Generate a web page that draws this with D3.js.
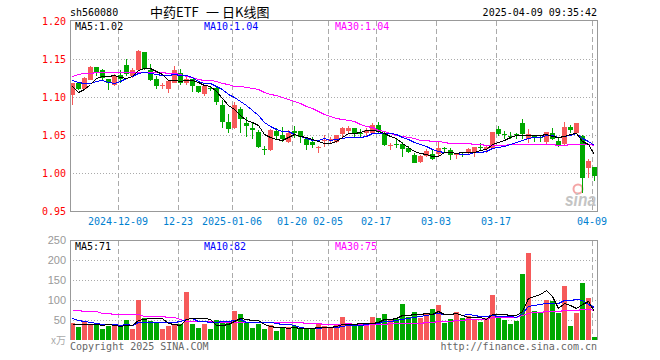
<!DOCTYPE html>
<html>
<head>
<meta charset="utf-8">
<script src="https://cdn.jsdelivr.net/npm/d3@7/dist/d3.min.js"></script>
<style>
  body { margin: 0; background: #fff; }
  svg text { font-family: "DejaVu Sans Mono", monospace; font-size: 10px; }
</style>
</head>
<body>
<div class="chart"></div>
<script>
/*************** DATA ***************/
// trading days shown, 2024-11-27 .. 2025-04-09
var days = [
  '2024-11-27','2024-11-28','2024-11-29',
  '2024-12-02','2024-12-03','2024-12-04','2024-12-05','2024-12-06',
  '2024-12-09','2024-12-10','2024-12-11','2024-12-12','2024-12-13',
  '2024-12-16','2024-12-17','2024-12-18','2024-12-19','2024-12-20',
  '2024-12-23','2024-12-24','2024-12-25','2024-12-26','2024-12-27',
  '2024-12-30','2024-12-31',
  '2025-01-02','2025-01-03',
  '2025-01-06','2025-01-07','2025-01-08','2025-01-09','2025-01-10',
  '2025-01-13','2025-01-14','2025-01-15','2025-01-16','2025-01-17',
  '2025-01-20','2025-01-21','2025-01-22','2025-01-23','2025-01-24',
  '2025-01-27',
  '2025-02-05','2025-02-06','2025-02-07',
  '2025-02-10','2025-02-11','2025-02-12','2025-02-13','2025-02-14',
  '2025-02-17','2025-02-18','2025-02-19','2025-02-20','2025-02-21',
  '2025-02-24','2025-02-25','2025-02-26','2025-02-27','2025-02-28',
  '2025-03-03','2025-03-04','2025-03-05','2025-03-06','2025-03-07',
  '2025-03-10','2025-03-11','2025-03-12','2025-03-13','2025-03-14',
  '2025-03-17','2025-03-18','2025-03-19','2025-03-20','2025-03-21',
  '2025-03-24','2025-03-25','2025-03-26','2025-03-27','2025-03-28',
  '2025-03-31',
  '2025-04-01','2025-04-02','2025-04-03',
  '2025-04-07','2025-04-08','2025-04-09'
];

var tickDays   = ['2024-12-09','2024-12-23','2025-01-06','2025-01-20','2025-02-05','2025-02-17','2025-03-03','2025-03-17','2025-04-09'];
var tickLabels = ['2024-12-09','12-23','2025-01-06','01-20','02-05','02-17','03-03','03-17','04-09'];
var priceTicks = [0.95, 1.00, 1.05, 1.10, 1.15, 1.20];
var volTicks   = [50, 100, 150, 200, 250];

var open = [1.103,1.119,1.111,1.123,1.139,1.135,1.124,1.116,1.129,1.142,1.127,1.136,1.159,1.135,1.124,1.115,1.111,1.119,1.132,1.118,1.124,1.114,1.104,1.112,1.112,
  1.0895,1.0675,1.0588,1.0842,1.0662,1.0588,1.0544,1.0311,1.0303,1.0553,1.050,1.0412,1.0557,1.0553,1.0447,1.0412,1.0325,1.0421,1.0425,1.0412,1.0513,1.0557,1.0588,1.0531,1.0522,1.0531,1.0632,1.0509,1.0364,1.0377,1.0382,1.0325,1.0237,1.014,1.0228,1.025,1.0246,
  1.0333,1.0303,1.0237,1.025,1.0259,1.0268,1.0338,1.0316,1.0325,1.0575,1.0513,1.0487,1.0513,1.0662,1.0447,1.0482,1.0478,1.0412,1.0522,1.0421,1.0377,1.0601,1.0522,1.0491,1.0061,1.0083];
var high = [1.119,1.120,1.126,1.141,1.139,1.137,1.124,1.130,1.136,1.150,1.138,1.162,1.159,1.144,1.128,1.119,1.121,1.141,1.137,1.126,1.124,1.115,1.116,1.113,1.114,
  1.0961,1.0776,1.0939,1.0873,1.0741,1.0654,1.0566,1.0355,1.0575,1.0588,1.0601,1.0566,1.0618,1.0553,1.0478,1.0478,1.0355,1.050,1.0469,1.050,1.0601,1.0618,1.0588,1.0575,1.0588,1.0662,1.0675,1.0544,1.039,1.0443,1.0412,1.0355,1.0259,1.0237,1.0311,1.0311,1.0412,
  1.0346,1.0325,1.0259,1.0281,1.0325,1.0342,1.0399,1.0355,1.0539,1.0618,1.0557,1.0539,1.0531,1.0706,1.0583,1.050,1.050,1.0539,1.0588,1.0456,1.0675,1.0632,1.0654,1.050,1.018,1.0083];
var low = [1.089,1.109,1.109,1.122,1.127,1.122,1.109,1.114,1.118,1.127,1.125,1.135,1.136,1.121,1.111,1.110,1.105,1.118,1.116,1.116,1.107,1.105,1.101,1.108,1.090,
  1.0588,1.0522,1.0575,1.0522,1.0469,1.0447,1.0325,1.0237,1.0289,1.0443,1.0412,1.039,1.0456,1.0399,1.0303,1.0325,1.0259,1.0338,1.0377,1.039,1.0456,1.0531,1.0478,1.0478,1.0469,1.0513,1.0513,1.0355,1.0303,1.0333,1.0215,1.0259,1.0127,1.0127,1.0206,1.0171,1.0224,
  1.0259,1.0171,1.018,1.0206,1.0237,1.0206,1.0303,1.0268,1.0311,1.0487,1.0443,1.0443,1.0443,1.0447,1.0399,1.0412,1.0412,1.0368,1.0434,1.0346,1.0364,1.0531,1.0513,0.9732,0.993,0.9899];
var close = [1.118,1.111,1.125,1.139,1.133,1.125,1.118,1.128,1.124,1.130,1.136,1.1605,1.137,1.123,1.114,1.116,1.121,1.135,1.118,1.124,1.115,1.107,1.115,1.110,1.093,
  1.0675,1.0579,1.0895,1.0711,1.0618,1.0566,1.0346,1.0303,1.0566,1.0487,1.0443,1.0531,1.0522,1.0478,1.0368,1.0368,1.0346,1.0434,1.0452,1.050,1.0588,1.0596,1.0513,1.0522,1.0566,1.0632,1.0544,1.0368,1.0368,1.0368,1.0311,1.0281,1.0136,1.0224,1.0289,1.018,1.0325,
  1.0325,1.0237,1.0246,1.0246,1.0316,1.0342,1.0333,1.0342,1.0539,1.0509,1.0509,1.0478,1.0509,1.0513,1.0509,1.0478,1.0469,1.0539,1.0452,1.0368,1.0601,1.0566,1.0654,0.993,1.0162,0.9961];

var ma5 = [1.114,1.107,1.110,1.117,1.125,1.127,1.128,1.129,1.126,1.125,1.127,1.136,1.138,1.138,1.134,1.130,1.122,1.122,1.121,1.123,1.123,1.120,1.116,1.114,1.108,
  1.099,1.089,1.084,1.076,1.070,1.067,1.063,1.051,1.048,1.045,1.043,1.047,1.051,1.049,1.047,1.045,1.042,1.040,1.040,1.042,1.047,1.052,1.053,1.054,1.056,1.056,1.055,1.052,1.049,1.046,1.039,1.034,1.029,1.026,1.025,1.022,1.023,
  1.027,1.027,1.026,1.027,1.027,1.028,1.030,1.032,1.038,1.041,1.044,1.047,1.050,1.050,1.050,1.050,1.050,1.051,1.049,1.047,1.049,1.051,1.053,1.042,1.038,1.025];
var ma10 = [1.123,1.120,1.119,1.119,1.121,1.122,1.120,1.118,1.121,1.125,1.127,1.132,1.133,1.132,1.130,1.129,1.129,1.130,1.129,1.129,1.126,1.121,1.119,1.118,1.115,
  1.111,1.104,1.100,1.095,1.089,1.083,1.076,1.067,1.062,1.058,1.055,1.055,1.051,1.049,1.046,1.044,1.044,1.046,1.044,1.045,1.046,1.047,1.047,1.047,1.049,1.052,1.053,1.053,1.052,1.051,1.048,1.045,1.041,1.038,1.035,1.031,1.029,
  1.028,1.027,1.026,1.025,1.025,1.027,1.028,1.029,1.033,1.034,1.036,1.038,1.041,1.044,1.046,1.047,1.048,1.050,1.050,1.048,1.049,1.050,1.052,1.046,1.042,1.037];
var ma30 = [1.128,1.130,1.131,1.132,1.1325,1.1325,1.1325,1.1325,1.1325,1.1325,1.1325,1.133,1.133,1.133,1.133,1.133,1.132,1.131,1.130,1.128,1.126,1.124,1.123,1.122,1.121,
  1.119,1.117,1.115,1.114,1.113,1.112,1.110,1.107,1.104,1.102,1.100,1.097,1.095,1.092,1.088,1.085,1.081,1.078,1.075,1.073,1.071,1.070,1.068,1.065,1.062,1.060,1.057,1.055,1.052,1.050,1.049,1.048,1.046,1.044,1.043,1.042,1.042,
  1.041,1.040,1.040,1.039,1.039,1.038,1.038,1.037,1.037,1.037,1.037,1.038,1.038,1.038,1.038,1.038,1.038,1.038,1.038,1.037,1.037,1.038,1.038,1.038,1.038,1.037];

// volume, 万
var vol = [43,32.5,47.5,41,42,27.5,36,35,36,50,27.5,100,54,48,44,27.5,35,40,40,121,40,31,40,27.5,50,
  42,42,72.5,64,43,31,40,27.5,37.5,23,29,33,35,27,29,29,42,35,33,37.5,57.5,40,36,40,40,57.5,56,65,50,52,90,57.5,70,54,68,77.5,87.5,
  43,52.5,71,56,60,50,46,54,112.5,60,50,40,47.5,166,218,72.5,67,100,98,67.5,135,35,67.5,143,105,7.5];
var vma5 = [40,39,39,39,41.2,38.1,38.8,36.3,35.3,36.9,36.9,49.7,53.5,55.9,54.7,54.7,41.7,38.9,37.3,52.7,55.2,54.4,54.4,51.9,37.7,
  38.1,40.3,46.8,54.1,52.7,50.5,50.1,41.1,35.8,31.8,31.4,30,31.5,29.4,30.6,30.6,32.4,32.4,33.6,35.3,41,40.6,40.8,42.2,42.7,42.7,45.9,51.7,53.7,56.1,62.6,62.9,63.9,64.7,67.9,65.4,71.4,
  66,65.7,66.3,62,56.5,57.9,56.6,53.2,64.5,64.5,64.5,63.3,62,72.7,104.3,108.8,114.2,124.7,111.1,81,93.5,87.1,80.6,89.6,97.1,71.6];
var vma10 = [54,51,48,45,42,40,39,39,38,39.1,37.5,44.3,44.9,45.6,45.8,45.8,45.7,46.2,46.6,53.7,55,48.1,46.7,44.6,45.2,
  46.7,47.4,50.6,53,45.2,44.3,45.2,44,45,42.3,41,40.1,36.3,32.6,31.2,31,31.2,32,31.5,33,35.8,36.5,36.6,37.9,39,41.9,43.3,46.3,48,49.4,52.7,54.4,57.8,59.2,62,64,67.2,
  65,65.2,67.1,63.7,64,62,61.2,59.8,63.3,60.5,61.2,60,57.6,68.6,84.4,86.7,88.8,93.4,91.9,92.7,101.2,100.7,102.7,100.4,89.1,82.6];
var vma30 = [75,75,72.5,72.5,72.5,68,68,64,64,64,64,64,61,61,61,61,57,57,52,48,48,48,48,48,46,
  46,46,46,46,46,45.6,45.8,45.2,45.1,44.4,44.5,44.4,44.4,44.1,43.4,43.4,41.5,40.9,40.4,40.1,41.1,41.3,41.2,41.2,38.5,39.1,39.9,40.7,41.5,41.5,43.1,43.7,43.6,43.2,44.1,45.6,47.2,
  47.7,48.2,49.8,50.7,51.6,52.1,52.8,53.6,56.4,57,57.5,57.7,58,61.7,67.6,68.8,69.7,71.7,73,73.4,75.8,75.3,75.8,76.5,76.5,75];

/*************** DRAW ***************/
const width = 660;
const height = 360;
const left = 70, right = 597;
const upColour = '#f65a5a', downColour = '#00a800';

var svg = d3.select('.chart')
  .append('svg')
  .attr('width', width)
  .attr('height', height);

// one band per trading day, 5px candle on a 6px step
const x = d3.scaleBand().domain(days).range([left, right]).paddingInner(1/6).paddingOuter(0);
const y = d3.scaleLinear().domain([0.95, 1.20]).range([211, 21]);
const yv = d3.scaleLinear().domain([0, 250]).range([340, 240]);

function colour(i){ return close[i] >= open[i] ? upColour : downColour; }
function mid(d){ return x(d) + x.bandwidth()/2; }

// header
svg.append('text').attr('x', 70).attr('y', 16).text('sh560080');
var title = svg.append('text').attr('y', 17)
  .style('font-family', '"Noto Sans CJK SC", sans-serif').style('font-size', '13px');
title.append('tspan').attr('x', 150).text('中药ETF');
title.append('tspan').attr('x', 206).text('一');
title.append('tspan').attr('x', 222).text('日K线图');
svg.append('text').attr('x', right).attr('y', 16).attr('text-anchor', 'end').text('2025-04-09 09:35:42');

// grid for both panels
function grid(top, bottom, yScale, values){
  svg.append('g').selectAll('line')
    .data(values)
    .enter()
    .append('line')
      .attr('x1', left).attr('x2', right)
      .attr('y1', d => Math.round(yScale(d)) + 0.5)
      .attr('y2', d => Math.round(yScale(d)) + 0.5)
      .attr('stroke', '#aaa')
      .style('stroke-dasharray', '1,2');

  svg.append('g').selectAll('line')
    .data(tickDays)
    .enter()
    .append('line')
      .attr('x1', d => x(d) + 0.5).attr('x2', d => x(d) + 0.5)
      .attr('y1', top).attr('y2', bottom)
      .attr('stroke', '#aaa')
      .style('stroke-dasharray', '5,3');
}
grid(21, 211, y, [1.00, 1.05, 1.10, 1.15]);
grid(241, 340, yv, [50, 100, 150, 200]);

// sina watermark
svg.append('circle').attr('cx', 578).attr('cy', 189).attr('r', 4.5)
  .attr('fill', 'none').attr('stroke', '#f4a6a6').attr('stroke-width', 2);
svg.append('text').attr('x', 565).attr('y', 206)
  .attr('textLength', 31).attr('lengthAdjust', 'spacingAndGlyphs')
  .style('font-family', '"Liberation Sans", sans-serif').style('font-size', '19px')
  .style('font-weight', 'bold').style('font-style', 'italic')
  .attr('fill', '#c4c4c4').text('sina');

// candles
var candle = svg.append('g').attr('shape-rendering', 'crispEdges');
candle.selectAll('.wick')
  .data(days)
  .enter()
  .append('rect')
    .attr('x', d => x(d) + 2)
    .attr('y', (d, i) => Math.round(y(high[i])))
    .attr('width', 1)
    .attr('height', (d, i) => Math.max(1, Math.round(y(low[i])) - Math.round(y(high[i]))))
    .attr('fill', (d, i) => colour(i));
candle.selectAll('.body')
  .data(days)
  .enter()
  .append('rect')
    .attr('x', d => x(d))
    .attr('y', (d, i) => Math.round(y(Math.max(open[i], close[i]))))
    .attr('width', x.bandwidth())
    .attr('height', (d, i) => Math.max(1, Math.round(y(Math.min(open[i], close[i]))) - Math.round(y(Math.max(open[i], close[i])))))
    .attr('fill', (d, i) => colour(i));

// volume bars
svg.append('g').attr('shape-rendering', 'crispEdges')
  .selectAll('rect')
  .data(days)
  .enter()
  .append('rect')
    .attr('x', d => x(d))
    .attr('y', (d, i) => Math.round(yv(vol[i])))
    .attr('width', x.bandwidth())
    .attr('height', (d, i) => 340 - Math.round(yv(vol[i])))
    .attr('fill', (d, i) => colour(i));

// moving averages
function maLine(values, yScale, stroke){
  var line = d3.line()
    .x((d, i) => mid(days[i]))
    .y(d => Math.round(yScale(d)) + 0.5);
  svg.append('path')
    .attr('d', line(values))
    .attr('fill', 'none')
    .attr('stroke', stroke)
    .attr('stroke-width', 1)
    .attr('shape-rendering', 'crispEdges');
}
maLine(ma30, y, '#f0f');
maLine(ma10, y, '#00f');
maLine(ma5, y, '#000');
maLine(vma30, yv, '#f0f');
maLine(vma10, yv, '#00f');
maLine(vma5, yv, '#000');

// panel borders
svg.append('path')
  .attr('d', 'M70.5,211.5V20.5H597.5V211.5H70.5')
  .attr('fill', 'none').attr('stroke', '#999').attr('shape-rendering', 'crispEdges');
svg.append('path')
  .attr('d', 'M70.5,340V240.5H597.5V340')
  .attr('fill', 'none').attr('stroke', '#999').attr('shape-rendering', 'crispEdges');

// price axis labels
svg.append('g').selectAll('text')
  .data(priceTicks)
  .enter()
  .append('text')
    .attr('x', 66)
    .attr('y', d => y(d))
    .attr('dy', '0.35em')
    .attr('text-anchor', 'end')
    .attr('fill', '#f00')
    .text(d => d.toFixed(2));

// volume axis labels
svg.append('g').selectAll('text')
  .data(volTicks)
  .enter()
  .append('text')
    .attr('x', 66)
    .attr('y', d => yv(d))
    .attr('dy', '0.35em')
    .attr('text-anchor', 'end')
    .attr('fill', '#999')
    .style('font-family', '"Liberation Sans", sans-serif')
    .style('font-size', '11px')
    .text(d => d);
svg.append('text').attr('x', 66).attr('y', 340).attr('dy', '0.35em')
  .attr('text-anchor', 'end').attr('fill', '#aaa')
  .style('font-family', '"Noto Sans CJK SC", sans-serif').style('font-size', '10px')
  .text('x万');

// date labels
svg.append('g').selectAll('text')
  .data(tickDays)
  .enter()
  .append('text')
    .attr('x', d => x(d))
    .attr('y', 225)
    .attr('text-anchor', 'middle')
    .attr('fill', '#0080d0')
    .text((d, i) => tickLabels[i]);

// MA legends
function legend(yPos, items){
  items.forEach(item => {
    svg.append('text').attr('x', item[0]).attr('y', yPos).attr('fill', item[2]).text(item[1]);
  });
}
legend(30, [[75, 'MA5:1.02', '#000'], [204, 'MA10:1.04', '#00f'], [335, 'MA30:1.04', '#f0f']]);
legend(250, [[75, 'MA5:71', '#000'], [204, 'MA10:82', '#00f'], [335, 'MA30:75', '#f0f']]);

// footer
svg.append('text').attr('x', 70).attr('y', 350).attr('fill', '#666').text('Copyright 2025 SINA.COM');
svg.append('text').attr('x', right).attr('y', 350).attr('text-anchor', 'end').attr('fill', '#666').text('http://finance.sina.com.cn');
</script>
</body>
</html>
